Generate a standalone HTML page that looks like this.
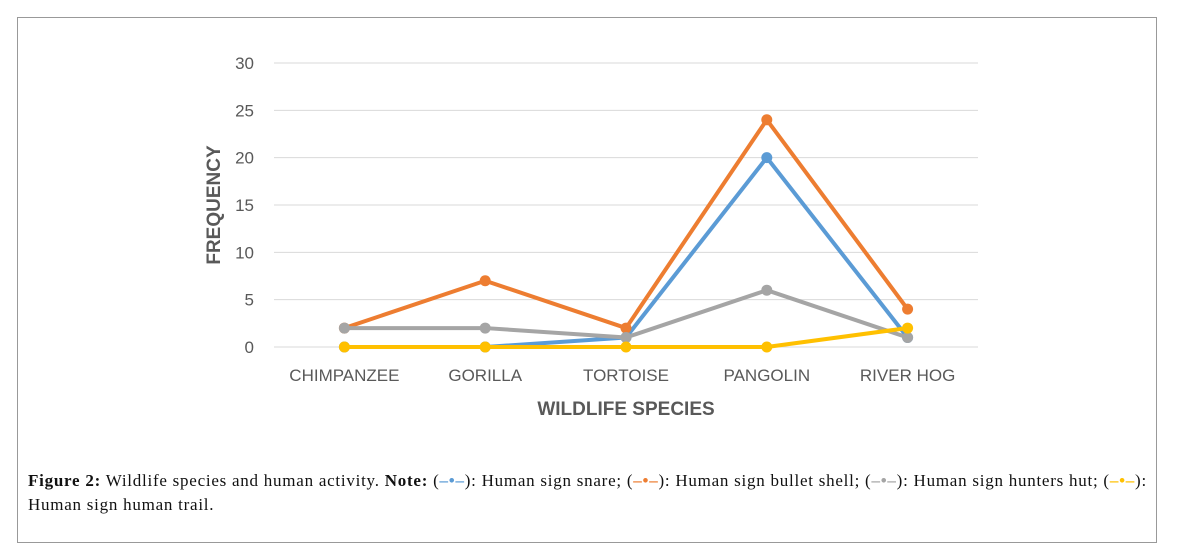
<!DOCTYPE html>
<html><head><meta charset="utf-8"><style>
body{margin:0;width:1178px;height:557px;background:#fff;position:relative;overflow:hidden}
#frame{position:absolute;left:17px;top:17px;width:1140px;height:526px;border:1px solid #999;box-sizing:border-box}
#cap{position:absolute;left:28px;top:469px;width:1125px;font-family:"Liberation Serif",serif;font-size:17px;line-height:24px;color:#111;white-space:nowrap;letter-spacing:0.75px}
.mk{font-weight:bold}
svg text{font-family:"Liberation Sans",sans-serif}
</style></head><body>
<div id="frame"></div>
<svg id="chart" width="1178" height="460" style="position:absolute;left:0;top:0"></svg>
<div id="cap"><b>Figure 2:</b> Wildlife species and human activity. <b>Note:</b> (<span class="mk" style="color:#5b9bd5">–•–</span>): Human sign snare; (<span class="mk" style="color:#ed7d31">–•–</span>): Human sign bullet shell; (<span class="mk" style="color:#a5a5a5">–•–</span>): Human sign hunters hut; (<span class="mk" style="color:#ffc000">–•–</span>):<br>Human sign human trail.</div>
<script>
const categories=["CHIMPANZEE","GORILLA","TORTOISE","PANGOLIN","RIVER HOG"];
const snare=[0,0,1,20,1];
const bullet=[2,7,2,24,4];
const hut=[2,2,1,6,1];
const trail=[0,0,0,0,2];
const yTicks=[0,5,10,15,20,25,30];
const NS="http://www.w3.org/2000/svg";
const svg=document.getElementById('chart');
const x0=274,x1=978,y0=347,yTop=63;
const xs=i=>x0+(x1-x0)/categories.length*(i+0.5);
const ys=v=>y0-(y0-yTop)*v/30;
function mk(t,a){const e=document.createElementNS(NS,t);for(const k in a)e.setAttribute(k,a[k]);svg.appendChild(e);return e;}
yTicks.forEach(t=>{
 const l=mk('line',{x1:x0,x2:x1,y1:ys(t),y2:ys(t),stroke:'#d9d9d9','stroke-width':1});
 
 
 const tx=mk('text',{x:254,y:ys(t)+6,'text-anchor':'end','font-size':17,fill:'#595959'});
 tx.textContent=t;
 
 
});
categories.forEach((c,i)=>{
 const tx=mk('text',{x:xs(i),y:381,'text-anchor':'middle','font-size':17,fill:'#595959'});
 tx.textContent=c;
 
 
});
const xt=mk('text',{x:626,y:415,'text-anchor':'middle','font-size':19,'font-weight':'bold',fill:'#595959'});
xt.textContent='WILDLIFE SPECIES';


const yt=mk('text',{x:0,y:0,'text-anchor':'middle','font-size':19,'font-weight':'bold',fill:'#595959',transform:'translate(220,205) rotate(-90)'});
yt.textContent='FREQUENCY';


[[snare,'#5b9bd5','snare'],[bullet,'#ed7d31','bullet-shell'],[hut,'#a5a5a5','hunters-hut'],[trail,'#ffc000','human-trail']].forEach(([d,c,n])=>{
 const p=mk('polyline',{points:d.map((v,i)=>xs(i)+','+ys(v)).join(' '),fill:'none',stroke:c,'stroke-width':4,'stroke-linejoin':'round'});
 
 
 d.forEach((v,i)=>{
  const m=mk('circle',{cx:xs(i),cy:ys(v),r:5.5,fill:c});
  
  
 });
});
</script>
</body></html>
